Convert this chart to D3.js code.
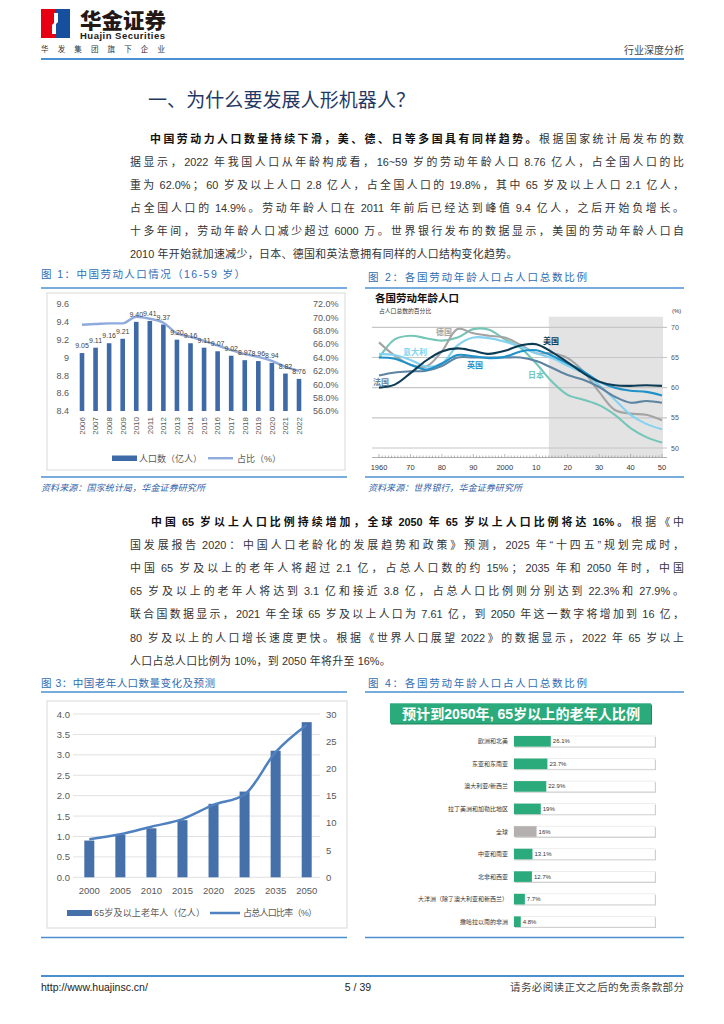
<!DOCTYPE html>
<html><head><meta charset="utf-8">
<script src="https://cdn.jsdelivr.net/npm/d3@7"></script>
<style>
body{margin:0;background:#fff;}
svg{display:block;font-family:"Liberation Sans","Noto Sans CJK SC",sans-serif;}
text.body{white-space:pre;}
</style></head><body>
<svg id="page" width="724" height="1024"></svg>
<script>
// ---------- DATA ----------
// Figure 1
const years1 = ["2006","2007","2008","2009","2010","2011","2012","2013","2014","2015","2016","2017","2018","2019","2020","2021","2022"];
const labor1 = [9.05,9.11,9.16,9.21,9.40,9.41,9.37,9.20,9.16,9.11,9.07,9.02,8.97,8.96,8.94,8.82,8.76];
const share1 = [68.9,69.0,69.1,69.1,70.1,69.8,69.2,67.6,67.1,66.5,65.8,65.1,64.5,64.1,63.5,62.6,62.0];
const ticksL1 = [8.4,8.6,8.8,9.0,9.2,9.4,9.6];
const tickLabelsL1 = ["8.4","8.6","8.8","9","9.2","9.4","9.6"];
const ticksR1 = [56,58,60,62,64,66,68,70,72];
const legend1 = ["人口数（亿人）","占比（%）"];

// Figure 2
const years2 = [1960,1965,1970,1975,1980,1985,1990,1995,2000,2005,2010,2015,2020,2025,2030,2035,2040,2045,2050];
const japan2   = [64.9,68.0,68.6,68.2,67.8,68.3,69.7,69.6,68.0,66.6,64.0,61.0,58.8,58.0,57.1,55.5,53.3,51.8,50.9];
const germany2 = [67.5,65.3,63.8,63.5,66.0,69.7,69.0,68.6,68.3,67.1,65.7,65.7,64.9,62.7,59.3,56.3,55.7,55.5,54.6];
const italy2   = [65.6,65.4,64.6,63.5,64.0,67.0,68.3,68.2,67.6,66.8,65.7,64.9,63.6,62.4,60.4,58.0,55.5,54.0,53.1];
const france2  = [62.0,62.5,62.7,62.8,63.6,65.0,65.0,65.0,65.0,65.0,64.4,63.3,62.1,61.3,60.1,58.5,57.5,57.8,57.5];
const uk2      = [65.0,64.8,63.8,63.0,64.0,65.4,65.2,64.9,65.1,66.0,66.2,65.3,64.0,62.7,61.0,60.0,59.5,59.3,58.7];
const usa2     = [60.0,60.5,62.4,64.5,66.0,66.5,66.1,65.6,66.1,67.0,67.2,65.9,64.2,62.4,61.0,60.4,60.3,60.4,60.3];
const countries2 = ["日本","德国","意大利","法国","英国","美国"];
const ticks2 = [50,55,60,65,70];
const xTickVals2 = [1960,1970,1980,1990,2000,2010,2020,2030,2040,2050];
const xTickLabels2 = ["1960","70","80","90","2000","10","20","30","40","50"];
const projStart2 = 2014;

// Figure 3
const years3 = ["2000","2005","2010","2015","2020","2025","2035","2050"];
const elderly3 = [0.9,1.04,1.2,1.4,1.8,2.1,3.1,3.8];
const ratio3 = [7.0,7.9,9.3,10.7,13.3,15.2,23.0,28.0];
const ticksL3 = [0,0.5,1,1.5,2,2.5,3,3.5,4];
const ticksR3 = [0,5,10,15,20,25,30];
const legend3 = ["65岁及以上老年人（亿人）","占总人口比率（%）"];

// Figure 4
const regions4 = ["欧洲和北美","东亚和东南亚","澳大利亚/新西兰","拉丁美洲和加勒比地区","全球","中亚和南亚","北非和西亚","大洋洲（除了澳大利亚和新西兰）","撒哈拉以南的非洲"];
const pct4 = [26.1,23.7,22.9,19,16,13.1,12.7,7.7,4.8];
const pctLabels4 = ["26.1%","23.7%","22.9%","19%","16%","13.1%","12.7%","7.7%","4.8%"];

// Text
const para1 = [
 [["中国劳动力人口数量持续下滑，美、德、日等多国具有同样趋势。",1],["根据国家统计局发布的数",0]],
 [["据显示，2022 年我国人口从年龄构成看，16~59 岁的劳动年龄人口 8.76 亿人，占全国人口的比",0]],
 [["重为 62.0%；60 岁及以上人口 2.8 亿人，占全国人口的 19.8%，其中 65 岁及以上人口 2.1 亿人，",0]],
 [["占全国人口的 14.9%。劳动年龄人口在 2011 年前后已经达到峰值 9.4 亿人，之后开始负增长。",0]],
 [["十多年间，劳动年龄人口减少超过 6000 万。世界银行发布的数据显示，美国的劳动年龄人口自",0]],
 [["2010 年开始就加速减少，日本、德国和英法意拥有同样的人口结构变化趋势。",0]]
];
const para2 = [
 [["中国 65 岁以上人口比例持续增加，全球 2050 年 65 岁以上人口比例将达 16%。",1],["根据《中",0]],
 [["国发展报告 2020：中国人口老龄化的发展趋势和政策》预测，2025 年“十四五”规划完成时，",0]],
 [["中国 65 岁及以上的老年人将超过 2.1 亿，占总人口数的约 15%；2035 年和 2050 年时，中国",0]],
 [["65 岁及以上的老年人将达到 3.1 亿和接近 3.8 亿，占总人口比例则分别达到 22.3%和 27.9%。",0]],
 [["联合国数据显示，2021 年全球 65 岁及以上人口为 7.61 亿，到 2050 年这一数字将增加到 16 亿，",0]],
 [["80 岁及以上的人口增长速度更快。根据《世界人口展望 2022》的数据显示，2022 年 65 岁以上",0]],
 [["人口占总人口比例为 10%，到 2050 年将升至 16%。",0]]
];

// ---------- DRAW ----------
const svg = d3.select("#page");
const LINEBLUE = "#4a90d0";
const TITLEBLUE = "#2e6db4";

// Header
svg.append("rect").attr("x",41).attr("y",9).attr("width",15).attr("height",29).attr("fill","#e60012");
svg.append("rect").attr("x",56).attr("y",9).attr("width",14).attr("height",29).attr("fill","#174f9f");
svg.append("path").attr("d","M54,13 L58,13 L58,22 L56,24 L56,34 L52,34 L52,25 L54,23 Z").attr("fill","#fff");
svg.append("text").attr("x",80).attr("y",28).attr("font-size",21).attr("font-weight",900)
  .attr("fill","#231815").attr("textLength",86).attr("lengthAdjust","spacingAndGlyphs").text("华金证券");
svg.append("text").attr("x",80).attr("y",39).attr("font-size",9.5).attr("font-weight","bold")
  .attr("fill","#231815").attr("textLength",85).text("Huajin Securities");
svg.append("text").attr("x",41).attr("y",52).attr("font-size",7.5).attr("fill","#333")
  .attr("textLength",124).text("华发集团旗下企业");
svg.append("text").attr("x",684).attr("y",54).attr("font-size",10).attr("fill","#444")
  .attr("text-anchor","end").text("行业深度分析");
svg.append("line").attr("x1",41).attr("x2",684).attr("y1",59).attr("y2",59).attr("stroke",LINEBLUE).attr("stroke-width",2.2);

// Heading
svg.append("text").attr("x",148).attr("y",107).attr("font-size",19).attr("fill","#1f3864")
  .attr("textLength",267).text("一、为什么要发展人形机器人？");

// Paragraphs: CJK-style justification (extra space distributed between tokens, Latin runs kept tight)
const FS = 10.9;
function layoutLine(segs, x, y, target){
  const t = svg.append("text").attr("class","body").attr("y",y).attr("font-size",FS).attr("fill","#333");
  const toks = [];
  segs.forEach(s=>{
    (s[0].match(/\s*[A-Za-z0-9.%~\-]+\s*|./gu)||[]).forEach(p=>toks.push([p,s[1]]));
  });
  const spans = toks.map(tk=>{
    const ts = t.append("tspan").text(tk[0]);
    if(tk[1]) ts.attr("font-weight","bold").attr("fill","#111");
    return ts;
  });
  const widths = spans.map(s=>s.node().getComputedTextLength());
  const total = d3.sum(widths);
  const extra = target ? (target-total)/(toks.length-1) : 0.35;
  let cx = x;
  spans.forEach((s,i)=>{ s.attr("x",cx); cx += widths[i]+extra; });
}
function para(lines, x0, xIndent, y0, dy){
  lines.forEach((segs,i)=>{
    const xs = i===0 ? xIndent : x0;
    layoutLine(segs, xs, y0+i*dy, i<lines.length-1 ? 684-xs : null);
  });
}
para(para1,130,150,142.8,23.1);
para(para2,130,151,525.5,23.2);

function figTitle(x,y,w,txt){
  svg.append("text").attr("x",x).attr("y",y).attr("font-size",10.5).attr("fill",TITLEBLUE)
    .attr("textLength",w).attr("lengthAdjust","spacing").text(txt);
}
function hline(x1,x2,y){
  svg.append("line").attr("x1",x1).attr("x2",x2).attr("y1",y).attr("y2",y).attr("stroke",LINEBLUE).attr("stroke-width",1.6);
}
function source(x,y,txt,w){
  svg.append("text").attr("x",x).attr("y",y).attr("font-size",9).attr("font-style","italic")
    .attr("fill","#2f5fa8").attr("textLength",w).text(txt);
}

// ---------- Figure 1 ----------
figTitle(41,278,204,"图 1：中国劳动人口情况（16-59 岁）");
hline(41,347,288);
svg.append("rect").attr("x",47).attr("y",293).attr("width",298).attr("height",177)
  .attr("fill","none").attr("stroke","#d9d9d9");
const g1 = svg.append("g");
const x1 = d3.scalePoint().domain(years1).range([82,299]);
const yL1 = d3.scaleLinear().domain([8.4,9.6]).range([411,304]);
const yR1 = d3.scaleLinear().domain([56,72]).range([411,304]);
const BAR1 = "#3f6aa8", LINE1 = "#8faadc";
g1.selectAll(".tl").data(ticksL1).join("text").attr("x",69).attr("y",d=>yL1(d)+3.3)
  .attr("text-anchor","end").attr("font-size",9).attr("fill","#595959").text((d,i)=>tickLabelsL1[i]);
g1.selectAll(".tr").data(ticksR1).join("text").attr("x",313).attr("y",d=>yR1(d)+3.3)
  .attr("font-size",9).attr("fill","#595959").text(d=>d3.format(".1f")(d)+"%");
g1.selectAll(".b").data(labor1).join("rect").attr("x",(d,i)=>x1(years1[i])-2.3).attr("width",4.6)
  .attr("y",d=>yL1(d)).attr("height",d=>yL1(8.4)-yL1(d)).attr("fill",BAR1);
g1.append("path").datum(share1).attr("fill","none").attr("stroke",LINE1).attr("stroke-width",2.4)
  .attr("d",d3.line().x((d,i)=>x1(years1[i])).y(d=>yR1(d)).curve(d3.curveMonotoneX));
g1.selectAll(".dl").data(labor1).join("text").attr("x",(d,i)=>x1(years1[i])).attr("y",d=>yL1(d)-5)
  .attr("text-anchor","middle").attr("font-size",7).attr("fill","#404040").text(d=>d3.format(".2f")(d));
g1.selectAll(".xl").data(years1).join("text")
  .attr("transform",d=>`translate(${x1(d)},417) rotate(-90)`).attr("dy","0.35em")
  .attr("text-anchor","end").attr("font-size",8).attr("fill","#595959").text(d=>d);
g1.append("rect").attr("x",112).attr("y",455.5).attr("width",25).attr("height",5.5).attr("fill",BAR1);
g1.append("text").attr("x",139).attr("y",461.5).attr("font-size",9).attr("fill","#595959").text(legend1[0]);
g1.append("line").attr("x1",208).attr("x2",233).attr("y1",458.2).attr("y2",458.2).attr("stroke",LINE1).attr("stroke-width",2.4);
g1.append("text").attr("x",237).attr("y",461.5).attr("font-size",9).attr("fill","#595959").text(legend1[1]);
hline(41,347,477);
source(41,491,"资料来源：国家统计局，华金证券研究所",164);

// ---------- Figure 2 ----------
figTitle(368,281,219,"图 2：各国劳动年龄人口占人口总数比例");
hline(365,684,288);
const g2 = svg.append("g");
const x2 = d3.scaleLinear().domain([1960,2050]).range([379,662]);
const y2 = d3.scaleLinear().domain([50,70]).range([448,327.3]);
g2.append("text").attr("x",375).attr("y",302).attr("font-size",10.5).attr("font-weight","bold").attr("fill","#111").text("各国劳动年龄人口");
g2.append("text").attr("x",379).attr("y",313).attr("font-size",5.8).attr("fill","#333").text("占人口总数的百分比");
g2.append("text").attr("x",672).attr("y",313).attr("font-size",6).attr("fill","#333").text("(%)");
g2.append("rect").attr("x",x2(projStart2)).attr("y",316.7).attr("width",663-x2(projStart2)).attr("height",140.3).attr("fill","#e3e3e3");
g2.selectAll(".gl").data(ticks2).join("line").attr("x1",372).attr("x2",667).attr("y1",d=>y2(d)).attr("y2",d=>y2(d))
  .attr("stroke","#c6c6c6").attr("stroke-width",1.2);
g2.selectAll(".yl").data(ticks2).join("text").attr("x",671).attr("y",d=>y2(d)+2.5)
  .attr("font-size",7).attr("fill","#555").text(d=>d);
g2.append("line").attr("x1",372).attr("x2",667).attr("y1",457.5).attr("y2",457.5).attr("stroke","#9a9a9a").attr("stroke-width",0.8);
g2.selectAll(".tk").data(d3.range(1960,2051)).join("line").attr("x1",d=>x2(d)).attr("x2",d=>x2(d))
  .attr("y1",d=>d%10===0?454:455.5).attr("y2",457.5).attr("stroke","#8a8a8a").attr("stroke-width",0.6);
g2.selectAll(".xl").data(xTickVals2).join("text").attr("x",d=>x2(d)).attr("y",470)
  .attr("text-anchor","middle").attr("font-size",7.5).attr("fill","#333").text((d,i)=>xTickLabels2[i]);
const series2 = [japan2,germany2,italy2,france2,uk2,usa2];
const colors2 = ["#73c6b8","#a4a4a4","#84d2f0","#5d84a1","#1f92c9","#0c3b54"];
const line2 = d3.line().x((d,i)=>x2(years2[i])).y(d=>y2(d)).curve(d3.curveCatmullRom.alpha(0.5));
series2.forEach((s,k)=>{
  g2.append("path").datum(s).attr("fill","none").attr("stroke",colors2[k]).attr("stroke-width",2.1).attr("d",line2);
});
const labPos2 = [[528,378],[436,335],[403,355],[373,385],[467,368],[543,344]];
countries2.forEach((c,k)=>{
  g2.append("text").attr("x",labPos2[k][0]).attr("y",labPos2[k][1]).attr("font-size",8).attr("font-weight","bold")
    .attr("fill",colors2[k]).text(c);
});
hline(365,684,477);
source(368,491,"资料来源：世界银行，华金证券研究所",154);

// ---------- Figure 3 ----------
figTitle(41,687,174,"图 3：中国老年人口数量变化及预测");
hline(41,347,692);
svg.append("rect").attr("x",47).attr("y",701).attr("width",300).attr("height",227)
  .attr("fill","none").attr("stroke","#d9d9d9");
const g3 = svg.append("g");
const x3 = d3.scalePoint().domain(years3).range([89.3,306.7]);
const yL3 = d3.scaleLinear().domain([0,4]).range([877.3,714]);
const yR3 = d3.scaleLinear().domain([0,30]).range([877.3,714]);
const BAR3 = "#4570a9", LINE3 = "#4f81c0";
g3.selectAll(".gl").data(ticksL3).join("line").attr("x1",73).attr("x2",320).attr("y1",d=>yL3(d)).attr("y2",d=>yL3(d))
  .attr("stroke","#d9d9d9").attr("stroke-width",0.8);
g3.selectAll(".tl").data(ticksL3).join("text").attr("x",70).attr("y",d=>yL3(d)+3.5)
  .attr("text-anchor","end").attr("font-size",9.5).attr("fill","#595959").text(d=>d3.format(".1f")(d));
g3.selectAll(".tr").data(ticksR3).join("text").attr("x",326).attr("y",d=>yR3(d)+3.5)
  .attr("font-size",9.5).attr("fill","#595959").text(d=>d);
g3.selectAll(".b").data(elderly3).join("rect").attr("x",(d,i)=>x3(years3[i])-5).attr("width",10)
  .attr("y",d=>yL3(d)).attr("height",d=>yL3(0)-yL3(d)).attr("fill",BAR3);
g3.append("path").datum(ratio3).attr("fill","none").attr("stroke",LINE3).attr("stroke-width",2.5)
  .attr("d",d3.line().x((d,i)=>x3(years3[i])).y(d=>yR3(d)).curve(d3.curveMonotoneX));
g3.selectAll(".xl").data(years3).join("text").attr("x",d=>x3(d)).attr("y",894)
  .attr("text-anchor","middle").attr("font-size",9.5).attr("fill","#595959").text(d=>d);
g3.append("rect").attr("x",67).attr("y",910).attr("width",25).attr("height",6).attr("fill",BAR3);
g3.append("text").attr("x",94).attr("y",916).attr("font-size",9).attr("fill","#595959")
  .attr("textLength",111).text(legend3[0]);
g3.append("line").attr("x1",210).attr("x2",240).attr("y1",913).attr("y2",913).attr("stroke",LINE3).attr("stroke-width",2.5);
g3.append("text").attr("x",243).attr("y",916).attr("font-size",9).attr("fill","#595959")
  .attr("textLength",74).text(legend3[1]);
hline(41,347,937.5);

// ---------- Figure 4 ----------
figTitle(368,687,219,"图 4：各国劳动年龄人口占人口总数比例");
hline(365,684,692);
const g4 = svg.append("g");
g4.append("rect").attr("x",391).attr("y",704.5).attr("width",261).attr("height",20).attr("fill","#1f8a62");
g4.append("rect").attr("x",390).attr("y",703.3).attr("width",261).attr("height",20).attr("fill","#2bab7c");
g4.append("text").attr("x",521).attr("y",718.5).attr("text-anchor","middle").attr("font-size",14)
  .attr("font-weight","bold").attr("fill","#fff").attr("textLength",238).attr("lengthAdjust","spacingAndGlyphs")
  .text("预计到2050年, 65岁以上的老年人比例");
const y4 = d3.scalePoint().domain(regions4).range([741.3,921.7]);
const x4 = d3.scaleLinear().domain([0,100]).range([514,655]);
regions4.forEach((r,i)=>{
  const c = y4(r);
  g4.append("rect").attr("x",x4(0)+1).attr("y",c-4.3).attr("width",x4(100)-x4(0)).attr("height",10.6).attr("fill","#c9c9c9");
  g4.append("rect").attr("x",x4(0)).attr("y",c-5.3).attr("width",x4(100)-x4(0)).attr("height",10.6)
    .attr("fill","#fff").attr("stroke","#e2e2e2").attr("stroke-width",0.6);
  g4.append("rect").attr("x",x4(0)).attr("y",c-5.3).attr("width",x4(pct4[i])-x4(0)).attr("height",10.6)
    .attr("fill", r==="全球" ? "#b5b0b0" : "#2bab7c");
  g4.append("text").attr("x",x4(pct4[i])+2).attr("y",c+2).attr("font-size",6).attr("fill","#333").text(pctLabels4[i]);
  g4.append("text").attr("x",508).attr("y",c+2).attr("text-anchor","end").attr("font-size",6).attr("fill","#333").text(r);
});
hline(365,684,937.5);

// ---------- Footer ----------
svg.append("line").attr("x1",41).attr("x2",684).attr("y1",976).attr("y2",976).attr("stroke",LINEBLUE).attr("stroke-width",2);
svg.append("text").attr("x",41).attr("y",991).attr("font-size",10.5).attr("fill","#222").text("http://www.huajinsc.cn/");
svg.append("text").attr("x",358).attr("y",991).attr("font-size",10.5).attr("fill","#222").attr("text-anchor","middle").text("5 / 39");
svg.append("text").attr("x",684).attr("y",991).attr("font-size",10.5).attr("fill","#444").attr("text-anchor","end")
  .attr("textLength",174).text("请务必阅读正文之后的免责条款部分");
</script>
</body></html>
